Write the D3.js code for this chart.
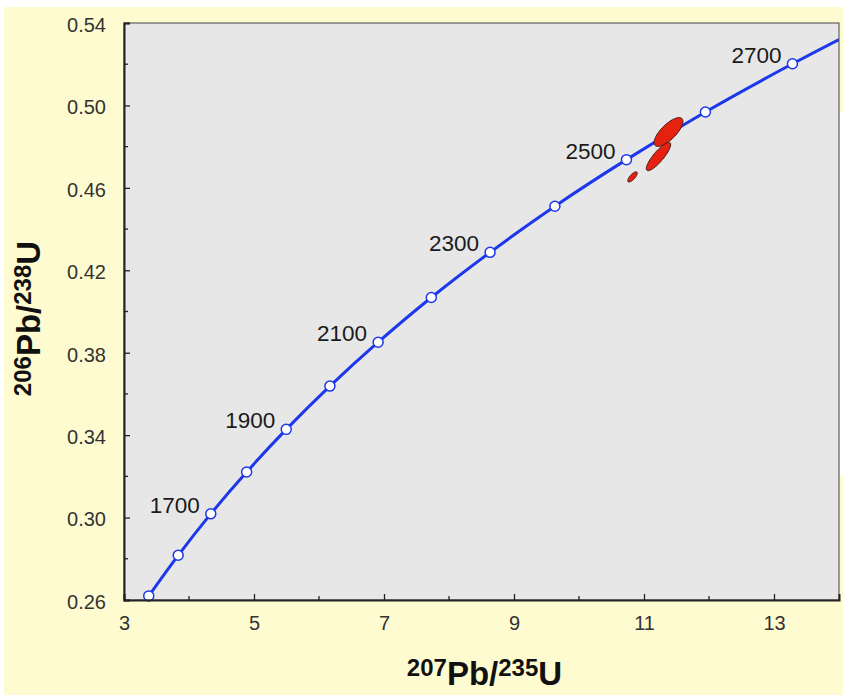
<!DOCTYPE html>
<html>
<head>
<meta charset="utf-8">
<script src="https://cdn.jsdelivr.net/npm/d3@7"></script>
<style>
  body { margin: 0; background: #fff; }
  svg text { font-family: "Liberation Sans", Arial, sans-serif; }
</style>
</head>
<body>
<div id="vis-tag"></div>
<script>
// concordia marks (Ma) and their ratios
const ages = [1500, 1600, 1700, 1800, 1900, 2000, 2100, 2200, 2300, 2400, 2500, 2600, 2700];
const pb207u235 = [3.381, 3.834, 4.335, 4.887, 5.496, 6.168, 6.910, 7.728, 8.632, 9.629, 10.730, 11.945, 13.284];
const pb206u238 = [0.2620, 0.2817, 0.3018, 0.3221, 0.3428, 0.3638, 0.3851, 0.4068, 0.4287, 0.4511, 0.4737, 0.4968, 0.5202];
const labelledAges = [1700, 1900, 2100, 2300, 2500, 2700];
// the curve keeps going past 2700 to the right edge
const curveEndX = 14.0;
const curveEndY = 0.5320;

// analyses (error ellipses)
const spotX = [11.377, 11.223, 10.823];
const spotY = [0.4871, 0.4752, 0.4653];
const spotSx = [0.222, 0.1875, 0.0728];
const spotSy = [0.00699, 0.00687, 0.00248];
const spotRho = [0.734, 0.853, 0.74];

const xTicks = [3, 5, 7, 9, 11, 13];
const xMinor = [4, 6, 8, 10, 12];
const yTicks = [0.26, 0.30, 0.34, 0.38, 0.42, 0.46, 0.50, 0.54];
const yMinor = [0.28, 0.32, 0.36, 0.40, 0.44, 0.48, 0.52];

const width = 846, height = 699;
const margin = { top: 23, right: 7, bottom: 99, left: 124 };

const svg = d3.select("#vis-tag").append("svg")
  .attr("width", width).attr("height", height);

// yellow page
svg.append("rect").attr("x", 4).attr("y", 7).attr("width", 839).attr("height", 688).attr("fill", "#fffbd0");
svg.append("rect").attr("x", 840).attr("y", 112).attr("width", 6).attr("height", 364).attr("fill", "#fff");

const x = d3.scaleLinear().domain([3, 14]).range([margin.left, width - margin.right]);
const y = d3.scaleLinear().domain([0.26, 0.54]).range([height - margin.bottom, margin.top]);

svg.append("rect")
  .attr("x", x(3)).attr("y", y(0.54))
  .attr("width", x(14) - x(3)).attr("height", y(0.26) - y(0.54))
  .attr("fill", "#e7e7e7");

svg.append("clipPath").attr("id", "clip").append("rect")
  .attr("x", x(3)).attr("y", y(0.54))
  .attr("width", x(14) - x(3)).attr("height", y(0.26) - y(0.54));

// concordia curve
const pts = ages.map((a, i) => ({ age: a, x: pb207u235[i], y: pb206u238[i] }));
const linePts = pts.concat([{ x: curveEndX, y: curveEndY }]);
const line = d3.line().x(d => x(d.x)).y(d => y(d.y)).curve(d3.curveCatmullRom);

const plot = svg.append("g").attr("clip-path", "url(#clip)");
plot.append("path")
  .datum(linePts)
  .attr("d", line)
  .attr("fill", "none")
  .attr("stroke", "#1c38ea")
  .attr("stroke-width", 3);

// error ellipses
const spots = spotX.map((v, i) => ({ x: v, y: spotY[i], sx: spotSx[i], sy: spotSy[i], rho: spotRho[i] }));
plot.selectAll(".spot").data(spots).enter().append("path")
  .attr("class", "spot")
  .attr("d", d => {
    const ring = d3.range(0, 73).map(k => {
      const t = k / 72 * 2 * Math.PI;
      return [x(d.x + d.sx * Math.cos(t)),
              y(d.y + d.sy * (d.rho * Math.cos(t) + Math.sqrt(1 - d.rho * d.rho) * Math.sin(t)))];
    });
    return d3.line()(ring) + "Z";
  })
  .attr("fill", "#e6210f")
  .attr("stroke", "#3b1c12")
  .attr("stroke-width", 1);

// age markers
svg.selectAll(".mark").data(pts).enter().append("circle")
  .attr("class", "mark")
  .attr("cx", d => x(d.x)).attr("cy", d => y(d.y))
  .attr("r", 5)
  .attr("fill", "#fff")
  .attr("stroke", "#1c38ea")
  .attr("stroke-width", 1.5);

svg.selectAll(".age").data(pts.filter(d => labelledAges.includes(d.age))).enter().append("text")
  .attr("class", "age")
  .attr("x", d => x(d.x) - 11)
  .attr("y", d => y(d.y) - 1)
  .attr("text-anchor", "end")
  .attr("font-size", 22.5)
  .attr("fill", "#1a1a1a")
  .text(d => d.age);

// frame
svg.append("rect")
  .attr("x", x(3)).attr("y", y(0.54))
  .attr("width", x(14) - x(3)).attr("height", y(0.26) - y(0.54))
  .attr("fill", "none").attr("stroke", "#444").attr("stroke-width", 1);

// axes with inward ticks
const xAxis = svg.append("g").attr("transform", `translate(0,${y(0.26)})`)
  .call(d3.axisBottom(x).tickValues(xTicks).tickSize(-6).tickPadding(16).tickFormat(d3.format("d")));
xAxis.selectAll(".tick line").attr("stroke", "#222").attr("stroke-width", 1.3);
xAxis.select(".domain").attr("stroke", "#222").attr("stroke-width", 2);
xAxis.selectAll("text").attr("font-size", 20).attr("fill", "#333");
xAxis.selectAll(".minor").data(xMinor).enter().append("line")
  .attr("class", "minor")
  .attr("x1", d => x(d)).attr("x2", d => x(d))
  .attr("y1", 0).attr("y2", -4)
  .attr("stroke", "#222").attr("stroke-width", 1.3);

const yAxis = svg.append("g").attr("transform", `translate(${x(3)},0)`)
  .call(d3.axisLeft(y).tickValues(yTicks).tickSize(-6).tickPadding(18).tickFormat(d3.format(".2f")));
yAxis.selectAll(".tick line").attr("stroke", "#222").attr("stroke-width", 1.3);
yAxis.select(".domain").attr("stroke", "#222").attr("stroke-width", 2);
yAxis.selectAll("text").attr("font-size", 20).attr("fill", "#333").attr("dy", "0.42em");
yAxis.selectAll(".minor").data(yMinor).enter().append("line")
  .attr("class", "minor")
  .attr("y1", d => y(d)).attr("y2", d => y(d))
  .attr("x1", 0).attr("x2", 4)
  .attr("stroke", "#222").attr("stroke-width", 1.3);

// axis titles
function isotopeTitle(sel, a, b) {
  sel.attr("text-anchor", "middle")
    .attr("font-weight", "bold").attr("font-size", 33).attr("fill", "#111");
  sel.append("tspan").attr("font-size", 24).attr("dy", -9).text(a);
  sel.append("tspan").attr("dy", 9).text("Pb/");
  sel.append("tspan").attr("font-size", 24).attr("dy", -9).text(b);
  sel.append("tspan").attr("dy", 9).text("U");
}
isotopeTitle(svg.append("text").attr("x", (x(3) + x(14)) / 2 + 3).attr("y", 685), "207", "235");
isotopeTitle(svg.append("text")
  .attr("transform", `translate(40,${(y(0.26) + y(0.54)) / 2 + 7}) rotate(-90)`), "206", "238");
</script>
</body>
</html>
